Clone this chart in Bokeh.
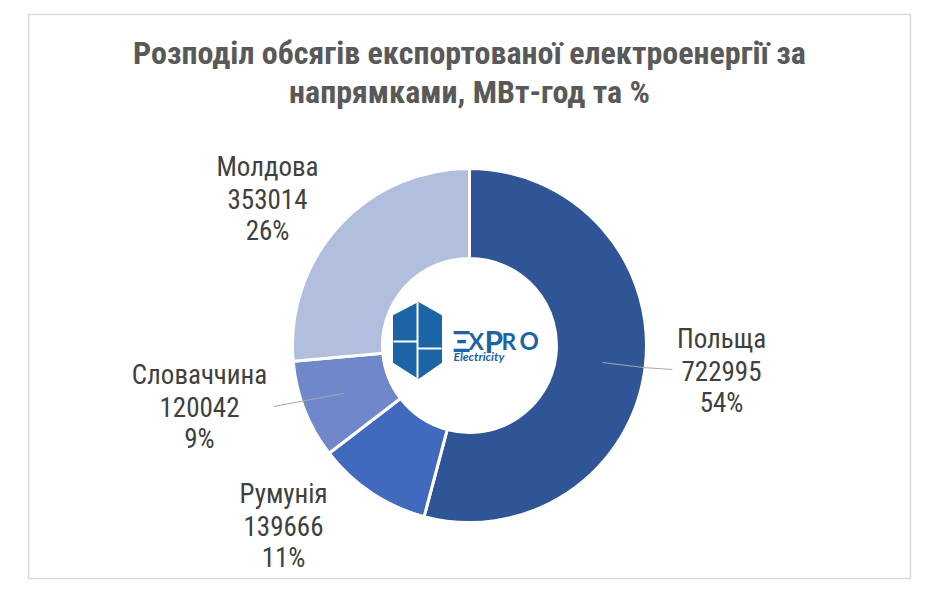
import math
from bokeh.plotting import figure
from bokeh.models import Range1d, ColumnDataSource
from bokeh.core.properties import value
from bokeh.embed import file_html
from bokeh.resources import INLINE

# ---- data ----
countries = ["Польща", "Румунія", "Словаччина", "Молдова"]
volumes = [722995, 139666, 120042, 353014]
percents = ["54%", "11%", "9%", "26%"]
colors = ["#2F5597", "#4169BD", "#7088CA", "#B1BEDE"]
title_lines = ["Розподіл обсягів експортованої електроенергії за",
               "напрямками, МВт-год та %"]

NARROW = "Roboto Condensed"

W, H = 929, 580
p = figure(width=W, height=H, output_backend="svg", toolbar_location=None,
           x_range=Range1d(0, W), y_range=Range1d(0, H), min_border=0,
           background_fill_color="white", border_fill_color="white")
p.axis.visible = False
p.grid.visible = False
p.outline_line_color = None

def px(x):  # screen x -> data x
    return x

def py(y):  # screen y -> data y
    return H - y

# frame
p.quad(left=[px(28)], right=[px(910)], top=[py(14)], bottom=[py(578)],
       fill_color="white", line_color="#D9D9D9", line_width=1.5)

# donut
cx, cy = px(469), py(345)
total = sum(volumes)
starts, ends = [], []
cum = 0.0
for v in volumes:
    a0 = math.pi / 2 - 2 * math.pi * cum / total
    cum += v
    a1 = math.pi / 2 - 2 * math.pi * cum / total
    starts.append(a1)
    ends.append(a0)
src = ColumnDataSource(dict(start=starts, end=ends, color=colors, name=countries))
p.annular_wedge(x=cx, y=cy, inner_radius=87, outer_radius=177,
                start_angle="start", end_angle="end", direction="anticlock",
                fill_color="color", line_color="white", line_width=3, source=src)

# leader lines
p.line([px(602), px(643), px(672)], [py(362), py(367), py(369)], line_color="#A6A6A6", line_width=1.2)
p.line([px(343), px(273)], [py(393), py(406)], line_color="#A6A6A6", line_width=1.2)

# labels
label_pos = {"Польща": (721, 338), "Румунія": (283, 493),
             "Словаччина": (199, 374), "Молдова": (267, 166)}
lx, ly, lt = [], [], []
for c, v, pc in zip(countries, volumes, percents):
    x0, y0 = label_pos[c]
    for i, t in enumerate([c, str(v), pc]):
        lx.append(px(x0))
        ly.append(py(y0 + i * 32))
        lt.append(t)
p.text(x=lx, y=ly, text=lt, text_align="center", text_baseline="middle",
       text_font=value(NARROW), text_font_size="27px", text_color="#404040")

# title
p.text(x=[px(469), px(469)], y=[py(52), py(91)], text=title_lines,
       text_align="center", text_baseline="middle", text_font=value(NARROW),
       text_font_size="32px", text_font_style="bold", text_color="#595959")

# logo
logo = "#1B64A6"
hx = [px(v) for v in [418, 441, 441, 418, 393, 393]]
hy = [py(v) for v in [302, 315, 362, 378, 362, 315]]
p.patch(hx, hy, fill_color=logo, line_color=logo)
p.line([px(417), px(417)], [py(302), py(378)], line_color="white", line_width=2)
p.line([px(393), px(417)], [py(341), py(341)], line_color="white", line_width=2)
p.line([px(417), px(441)], [py(348), py(348)], line_color="white", line_width=2)
for t, x0, fs in [("Ξ", 452, "29px"), ("X", 468, "23px"), ("P", 484, "30px"),
                  ("R", 501, "23px"), ("O", 519, "24px")]:
    p.text(x=[px(x0)], y=[py(340)], text=[t], text_align="left", text_baseline="alphabetic",
           text_font=value("Lato"), text_font_size=fs, text_font_style="bold", text_color=logo)
p.text(x=[px(453)], y=[py(356)], text=["Electricity"], text_align="left", text_baseline="middle",
       text_font=value("Lato"), text_font_size="12px", text_font_style="bold italic", text_color=logo)

open("out.html", "w").write(file_html(p, INLINE))
